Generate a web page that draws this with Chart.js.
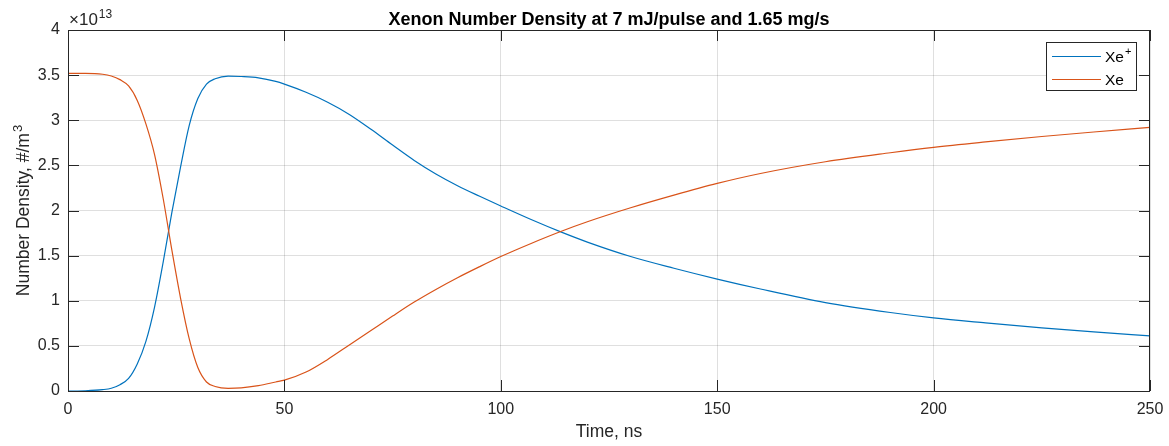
<!DOCTYPE html>
<html>
<head>
<meta charset="utf-8">
<title>Xenon Number Density</title>
<script src="https://cdn.jsdelivr.net/npm/chart.js@4.4.1/dist/chart.umd.min.js"></script>
<style>
  html, body { margin: 0; padding: 0; background: #fff; }
  #wrap { width: 1169px; height: 446px; }
</style>
</head>
<body>
<div id="wrap"><canvas id="densityChart" width="1169" height="446"></canvas></div>
<script>
// Valeurs (densité en unités de 1e13 #/m^3)
const timeNs = [0, 0.05, 4, 8, 10, 12, 14, 16, 18, 20, 22, 24, 26, 28, 30, 32, 34, 37, 40, 44, 48, 50,
  55, 60, 65, 70, 75, 80, 85, 90, 95, 100, 107, 114, 120, 130, 140, 150, 160, 175, 190, 200, 212, 225, 237, 250];
const xePlus = [0, 0, 0.003, 0.015, 0.03, 0.07, 0.14, 0.30, 0.55, 0.93, 1.43, 1.98, 2.48, 2.94, 3.24, 3.40, 3.46, 3.49, 3.485, 3.47, 3.43, 3.40,
  3.31, 3.20, 3.065, 2.90, 2.725, 2.555, 2.405, 2.275, 2.16, 2.05, 1.90, 1.76, 1.65, 1.49, 1.36, 1.24, 1.13, 0.98, 0.87, 0.81, 0.755, 0.70, 0.655, 0.61];
const xeNeutral = [0, 3.52, 3.52, 3.51, 3.49, 3.45, 3.38, 3.22, 2.96, 2.62, 2.13, 1.56, 1.03, 0.58, 0.26, 0.10, 0.05, 0.03, 0.035, 0.06, 0.10, 0.12,
  0.21, 0.35, 0.51, 0.67, 0.83, 0.985, 1.125, 1.255, 1.375, 1.49, 1.635, 1.77, 1.875, 2.03, 2.17, 2.30, 2.41, 2.54, 2.64, 2.70, 2.76, 2.82, 2.87, 2.92];
const xTicks = [0, 50, 100, 150, 200, 250];
const yTicks = [0, 0.5, 1, 1.5, 2, 2.5, 3, 3.5, 4];
const yExponent = '13';

const FONT = '"Liberation Sans", Arial, Helvetica, sans-serif';
const AXIS_COLOR = '#262626';
const BLUE = '#0072BD';
const ORANGE = '#D95319';

function toPoints(xs, ys) {
  return xs.map((x, i) => ({ x: x, y: ys[i] }));
}

// texte avec exposant, aligné à gauche
function drawSup(ctx, base, sup, x, y, size) {
  ctx.font = size + 'px ' + FONT;
  ctx.fillText(base, x, y);
  const w = ctx.measureText(base).width;
  if (sup) {
    ctx.font = Math.round(size * 0.72) + 'px ' + FONT;
    ctx.fillText(sup, x + w + 1, y - size * 0.42);
    return w + 1 + ctx.measureText(sup).width;
  }
  return w;
}

const matlabDecor = {
  id: 'matlabDecor',
  afterDatasetsDraw(chart) {
    const ctx = chart.ctx;
    const a = chart.chartArea;
    const xs = chart.scales.x;
    const ys = chart.scales.y;
    ctx.save();
    ctx.strokeStyle = AXIS_COLOR;
    ctx.lineWidth = 1;
    // cadre
    ctx.strokeRect(a.left + 0.5, a.top + 0.5, a.right - a.left - 1, a.bottom - a.top);
    // graduations vers l'intérieur
    const tl = 11;
    ctx.beginPath();
    xTicks.forEach(v => {
      const px = Math.round(xs.getPixelForValue(v)) + 0.5;
      ctx.moveTo(px, a.bottom); ctx.lineTo(px, a.bottom - tl);
      ctx.moveTo(px, a.top); ctx.lineTo(px, a.top + tl);
    });
    yTicks.forEach(v => {
      const py = Math.round(ys.getPixelForValue(v)) + 0.5;
      ctx.moveTo(a.left, py); ctx.lineTo(a.left + tl, py);
      ctx.moveTo(a.right, py); ctx.lineTo(a.right - tl, py);
    });
    ctx.stroke();

    ctx.fillStyle = AXIS_COLOR;
    ctx.textBaseline = 'alphabetic';
    // multiplicateur de l'axe y
    ctx.textAlign = 'left';
    drawSup(ctx, '\u00d710', yExponent, a.left + 1, 25, 17);

    // titre
    ctx.fillStyle = '#000';
    ctx.textAlign = 'center';
    ctx.font = 'bold 18px ' + FONT;
    ctx.fillText('Xenon Number Density at 7 mJ/pulse and 1.65 mg/s', (a.left + a.right) / 2, 25);

    // titre de l'axe x
    ctx.fillStyle = AXIS_COLOR;
    ctx.font = '17.5px ' + FONT;
    ctx.fillText('Time, ns', (a.left + a.right) / 2, 437);

    // titre de l'axe y (rotation)
    ctx.save();
    ctx.translate(29, (a.top + a.bottom) / 2);
    ctx.rotate(-Math.PI / 2);
    ctx.textAlign = 'left';
    ctx.font = '17.5px ' + FONT;
    const wBase = ctx.measureText('Number Density, #/m').width;
    ctx.font = '13px ' + FONT;
    const wTot = wBase + 1 + ctx.measureText('3').width;
    drawSup(ctx, 'Number Density, #/m', '3', -wTot / 2, 0, 17.5);
    ctx.restore();

    // légende
    const lx = 1046, ly = 42, lw = 90, lh = 48;
    ctx.fillStyle = '#fff';
    ctx.fillRect(lx, ly, lw, lh);
    ctx.strokeStyle = AXIS_COLOR;
    ctx.strokeRect(lx + 0.5, ly + 0.5, lw, lh);
    const items = [
      { base: 'Xe', sup: '+', color: BLUE, y: 56 },
      { base: 'Xe', sup: '', color: ORANGE, y: 79 }
    ];
    items.forEach(it => {
      ctx.strokeStyle = it.color;
      ctx.lineWidth = 1.2;
      ctx.beginPath();
      ctx.moveTo(lx + 6, it.y + 0.5);
      ctx.lineTo(lx + 55, it.y + 0.5);
      ctx.stroke();
      ctx.fillStyle = '#000';
      ctx.textAlign = 'left';
      ctx.textBaseline = 'middle';
      drawSup(ctx, it.base, it.sup, lx + 59, it.y + 2, 15.5);
    });
    ctx.restore();
  }
};

new Chart(document.getElementById('densityChart'), {
  type: 'line',
  data: {
    datasets: [{
      label: 'Xe+',
      data: toPoints(timeNs, xePlus),
      borderColor: BLUE,
      borderWidth: 1.2,
      pointRadius: 0,
      cubicInterpolationMode: 'monotone',
      fill: false,
      order: 2
    }, {
      label: 'Xe',
      data: toPoints(timeNs, xeNeutral),
      borderColor: ORANGE,
      borderWidth: 1.2,
      pointRadius: 0,
      cubicInterpolationMode: 'monotone',
      fill: false,
      order: 1
    }]
  },
  options: {
    responsive: false,
    animation: false,
    events: [],
    layout: { padding: { top: 30, right: 19, left: 0, bottom: 0 } },
    plugins: {
      legend: { display: false },
      title: { display: false },
      tooltip: { enabled: false }
    },
    scales: {
      x: {
        type: 'linear',
        min: 0,
        max: 250,
        afterBuildTicks: s => { s.ticks = xTicks.map(v => ({ value: v })); },
        afterFit: s => { s.height = 55; s.paddingLeft = 0; s.paddingRight = 0; },
        grid: { color: 'rgba(38,38,38,0.15)', drawTicks: false },
        border: { display: false },
        ticks: {
          padding: 9,
          color: AXIS_COLOR,
          font: { family: FONT, size: 16 },
          maxRotation: 0,
          callback: v => String(v)
        }
      },
      y: {
        min: 0,
        max: 4,
        afterBuildTicks: s => { s.ticks = yTicks.map(v => ({ value: v })); },
        afterFit: s => { s.width = 68; s.paddingTop = 0; s.paddingBottom = 0; },
        grid: { color: 'rgba(38,38,38,0.15)', drawTicks: false },
        border: { display: false },
        ticks: {
          padding: 8,
          color: AXIS_COLOR,
          font: { family: FONT, size: 16 },
          callback: v => String(v)
        }
      }
    }
  },
  plugins: [matlabDecor]
});
</script>
</body>
</html>
